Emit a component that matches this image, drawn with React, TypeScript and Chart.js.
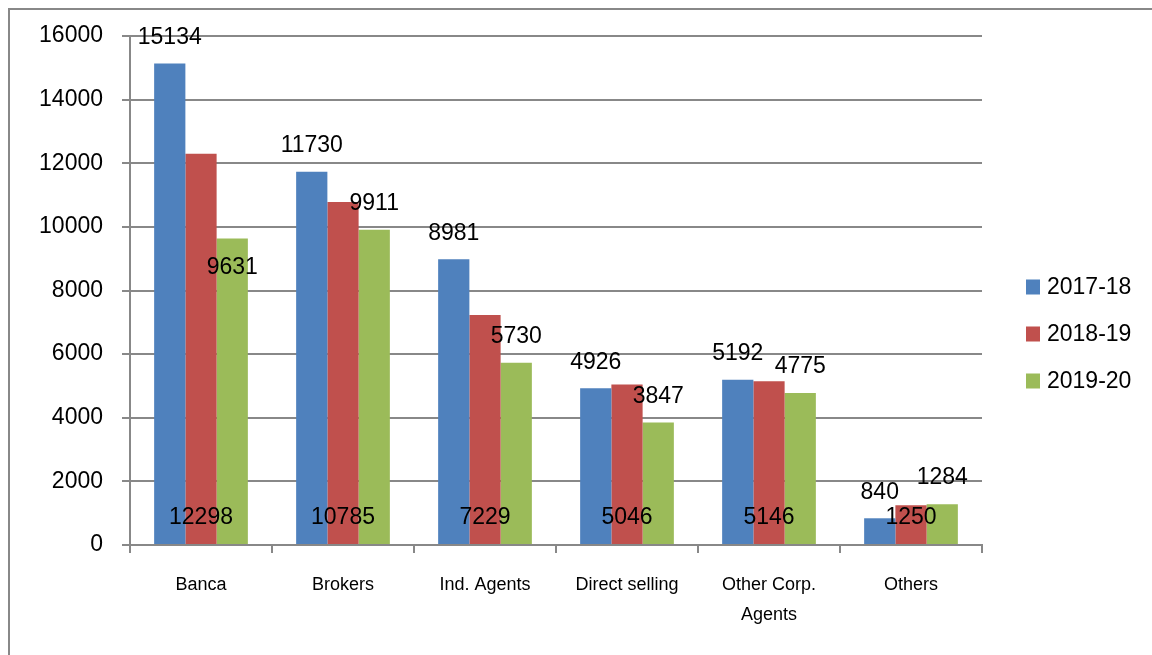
import React, { useEffect, useRef } from "react";
import { Chart, registerables } from "chart.js";

Chart.register(...registerables);

const categories: (string | string[])[] = [
  "Banca",
  "Brokers",
  "Ind. Agents",
  "Direct selling",
  ["Other Corp.", "Agents"],
  "Others",
];
const seriesNames = ["2017-18", "2018-19", "2019-20"];
const values2017 = [15134, 11730, 8981, 4926, 5192, 840];
const values2018 = [12298, 10785, 7229, 5046, 5146, 1250];
const values2019 = [9631, 9911, 5730, 3847, 4775, 1284];
const colors = ["#4F81BD", "#C0504D", "#9BBB59"];
const yMax = 16000;
const yStep = 2000;

const FONT = "'Liberation Sans', Arial, sans-serif";

const labelPlugin = {
  id: "valueLabels",
  afterDatasetsDraw(chart: any) {
    const ctx = chart.ctx;
    const opts = chart.options.plugins.valueLabels || {};
    const modes: string[] = opts.modes || [];
    const inside: number[][] = opts.inside || [];
    ctx.save();
    ctx.font = `23px ${FONT}`;
    ctx.fillStyle = "#000";
    ctx.textAlign = "center";
    ctx.textBaseline = "middle";
    chart.data.datasets.forEach((ds: any, di: number) => {
      const meta = chart.getDatasetMeta(di);
      meta.data.forEach((bar: any, i: number) => {
        const v = ds.data[i];
        let mode = modes[di] || "above";
        if (inside.some(([d, k]) => d === di && k === i)) mode = "inside";
        let y;
        if (mode === "base") y = bar.base - 26;
        else if (mode === "inside") y = bar.y + 29;
        else y = bar.y - 26;
        ctx.fillText(String(v), bar.x, y);
      });
    });
    ctx.restore();
  },
};

const legendPlugin = {
  id: "sideLegend",
  afterDraw(chart: any) {
    const ctx = chart.ctx;
    ctx.save();
    ctx.font = `23px ${FONT}`;
    ctx.textAlign = "left";
    ctx.textBaseline = "middle";
    const startY = 277;
    const gap = 47;
    chart.data.datasets.forEach((ds: any, i: number) => {
      const cy = startY + i * gap;
      ctx.fillStyle = ds.backgroundColor;
      ctx.fillRect(1016, cy - 7.5, 14, 15);
      ctx.fillStyle = "#000";
      ctx.fillText(ds.label, 1037, cy + 1);
    });
    ctx.restore();
  },
};

export default function App() {
  const ref = useRef<HTMLCanvasElement>(null);
  useEffect(() => {
    document.documentElement.style.overflow = "hidden";
    if (!ref.current) return;
    const chart = new Chart(ref.current, {
      type: "bar",
      data: {
        labels: categories,
        datasets: [values2017, values2018, values2019].map((d, i) => ({
          label: seriesNames[i],
          data: d,
          backgroundColor: colors[i],
          borderWidth: 0,
          categoryPercentage: 0.66,
          barPercentage: 1,
        })),
      },
      options: {
        animation: false,
        responsive: true,
        maintainAspectRatio: false,
        layout: { padding: { top: 26, right: 170, left: 0, bottom: 0 } },
        plugins: {
          legend: { display: false },
          tooltip: { enabled: false },
          valueLabels: { modes: ["above", "base", "above"], inside: [[2, 0]] },
        } as any,
        scales: {
          x: {
            grid: {
              display: true,
              drawOnChartArea: false,
              drawTicks: true,
              tickLength: 8,
              color: "#888888",
              lineWidth: 2,
              offset: true,
            },
            border: { display: true, color: "#888888", width: 2 },
            ticks: {
              color: "#000",
              font: { family: FONT, size: 18, lineHeight: 30 / 18 },
              padding: 17,
              maxRotation: 0,
              autoSkip: false,
            },
            afterFit: (s: any) => {
              s.height = 110;
            },
          },
          y: {
            min: 0,
            max: yMax,
            grid: {
              color: "#888888",
              lineWidth: 2,
              tickLength: 8,
              drawTicks: true,
            },
            border: { display: true, color: "#888888", width: 2 },
            ticks: {
              stepSize: yStep,
              color: "#000",
              font: { family: FONT, size: 23 },
              padding: 19,
              callback: (v: any) => String(v),
            },
            afterFit: (s: any) => {
              s.width = 120;
              s.paddingTop = 0;
              s.paddingBottom = 0;
            },
          },
        },
      },
      plugins: [labelPlugin, legendPlugin],
    });
    return () => chart.destroy();
  }, []);
  return (
    <div style={{ height: 647 }}>
      <div
        style={{
          position: "fixed",
          left: 8,
          top: 8,
          boxSizing: "border-box",
          width: 1144,
          height: 647,
          borderLeft: "2px solid #888888",
          borderTop: "2px solid #888888",
          background: "#fff",
        }}
      >
        <div style={{ position: "relative", width: 1142, height: 645 }}>
          <canvas ref={ref} />
        </div>
      </div>
    </div>
  );
}
